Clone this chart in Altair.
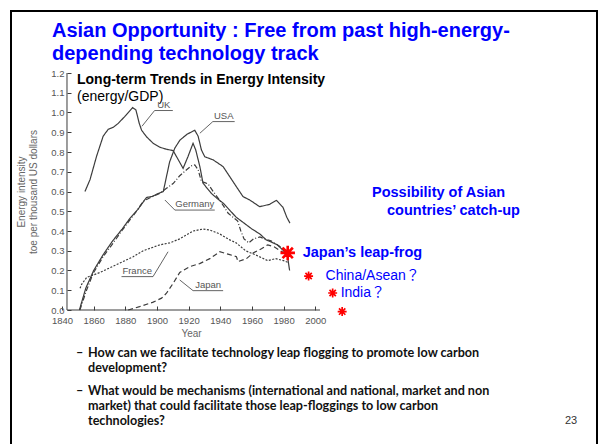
import altair as alt
import pandas as pd

# Energy intensity, toe per thousand US dollars (commercial energy / GDP)
uk_year = [1854.5, 1857.7, 1861.9, 1866.0, 1869.2, 1872.4, 1875.5, 1879.7, 1884.6, 1886.7,
           1888.8, 1890.3, 1893.4, 1897.6, 1901.8, 1906.0, 1910.2, 1912.4, 1916.5, 1919.5,
           1922.8, 1924.5, 1927.1, 1929.1, 1934.4, 1938.0, 1942.0, 1946.0, 1950.0, 1955.0,
           1960.0, 1965.0, 1969.0, 1972.0, 1976.0, 1980.0, 1982.5, 1983.8]
uk_value = [0.60, 0.66, 0.78, 0.88, 0.915, 0.925, 0.945, 0.98, 1.025, 1.013,
            0.945, 0.91, 0.877, 0.844, 0.824, 0.814, 0.807, 0.776, 0.717, 0.775,
            0.844, 0.81, 0.726, 0.642, 0.59, 0.565, 0.54, 0.505, 0.47, 0.44,
            0.41, 0.385, 0.355, 0.345, 0.33, 0.30, 0.27, 0.20]

usa_year = [1851.0, 1855.0, 1860.0, 1866.0, 1872.0, 1878.0, 1883.0, 1888.0, 1893.4, 1897.0,
            1900.8, 1904.0, 1908.0, 1911.3, 1914.5, 1919.0, 1923.9, 1926.0, 1928.1, 1930.2,
            1935.5, 1941.8, 1946.0, 1950.2, 1954.4, 1958.6, 1964.9, 1971.2, 1975.5, 1979.6,
            1982.0, 1984.0]
usa_value = [0.0, 0.11, 0.20, 0.28, 0.35, 0.41, 0.465, 0.51, 0.57, 0.575,
             0.59, 0.60, 0.75, 0.82, 0.86, 0.89, 0.91, 0.88, 0.81, 0.776,
             0.76, 0.726, 0.675, 0.624, 0.574, 0.557, 0.523, 0.535, 0.555, 0.52,
             0.47, 0.44]

germany_year = [1851.3, 1855.5, 1859.7, 1866.0, 1872.4, 1877.7, 1882.9, 1887.1, 1891.3, 1896.0,
                1901.8, 1906.0, 1910.2, 1914.4, 1918.7, 1921.8, 1923.9, 1926.0, 1928.1, 1930.2,
                1932.3, 1935.5, 1938.6, 1941.8, 1945.0, 1948.0, 1951.0, 1953.0, 1955.0, 1958.0,
                1961.0, 1965.0, 1968.0, 1972.0, 1976.0, 1980.0, 1983.0]
germany_value = [0.0, 0.10, 0.186, 0.27, 0.34, 0.40, 0.456, 0.50, 0.55, 0.57,
                 0.59, 0.616, 0.64, 0.68, 0.71, 0.73, 0.735, 0.71, 0.65, 0.645,
                 0.638, 0.60, 0.567, 0.53, 0.49, 0.47, 0.45, 0.40, 0.36, 0.34,
                 0.36, 0.37, 0.36, 0.35, 0.33, 0.31, 0.29]

france_year = [1851.4, 1852.4, 1855.6, 1864.0, 1874.5, 1885.0, 1891.3, 1901.8, 1908.1, 1914.4,
               1922.8, 1929.1, 1933.4, 1939.7, 1946.0, 1950.0, 1956.0, 1962.0, 1970.0, 1975.0,
               1980.0, 1983.0]
france_value = [0.11, 0.13, 0.165, 0.19, 0.23, 0.27, 0.30, 0.33, 0.34, 0.36,
                0.40, 0.41, 0.405, 0.385, 0.355, 0.34, 0.30, 0.28, 0.25, 0.26,
                0.25, 0.24]

japan_year = [1881.8, 1889.0, 1897.6, 1902.9, 1906.0, 1910.2, 1914.4, 1920.8, 1927.0, 1933.4,
              1939.7, 1946.0, 1950.2, 1951.2, 1956.5, 1961.0, 1966.0, 1970.0, 1974.0, 1978.0,
              1982.0]
japan_value = [0.0, 0.017, 0.04, 0.06, 0.085, 0.135, 0.19, 0.22, 0.235, 0.26,
               0.295, 0.28, 0.27, 0.245, 0.26, 0.29, 0.31, 0.33, 0.32, 0.30,
               0.28]

countries = ["UK", "USA", "Germany", "France", "Japan"]

# Name tags drawn beside the curves, with their callout lines
tag_name = ["UK", "USA", "Germany", "France", "Japan"]
tag_year = [1904.3, 1942.2, 1923.9, 1887.5, 1932.3]
tag_value = [1.01, 0.954, 0.506, 0.169, 0.098]
callout_name = ["UK", "UK", "UK", "USA", "USA", "USA", "Germany", "Germany", "Germany",
                "France", "France", "France", "Japan", "Japan", "Japan"]
callout_year = [1890.5, 1898.5, 1910.0, 1927.1, 1935.3, 1949.1, 1905.0, 1911.3, 1936.5,
                1877.6, 1897.5, 1907.0, 1914.4, 1922.8, 1941.8]
callout_value = [0.93, 1.01, 1.01, 0.895, 0.954, 0.954, 0.557, 0.506, 0.506,
                 0.169, 0.169, 0.295, 0.152, 0.098, 0.098]

# Asian catch-up markers
star_year = [1982.6, 1995.8, 2011.0, 2017.0]
star_value = [0.289, 0.172, 0.086, -0.008]
star_label = ["Japan’s leap-frog", "China/Asean？", "India？", ""]

year_ticks = [1840, 1860, 1880, 1900, 1920, 1940, 1960, 1980, 2000]
value_ticks = [0.0, 0.1, 0.2, 0.3, 0.4, 0.5, 0.6, 0.7, 0.8, 0.9, 1.0, 1.1, 1.2]

title_lines = ["Asian Opportunity : Free from past high-energy-",
               "depending technology track"]
chart_heading = "Long-term Trends in Energy Intensity"
chart_unit = "(energy/GDP)"
catchup_lines = ["Possibility of Asian", "countries’ catch-up"]
bullet_lines = [
    ("–", "How can we facilitate technology leap flogging to promote low carbon"),
    ("", "development?"),
    ("–", "What would be mechanisms (international and national, market and non"),
    ("", "market) that could facilitate those leap-floggings to low carbon"),
    ("", "technologies?"),
]
page_number = "23"

# ---------------------------------------------------------------- tables
series = pd.concat(
    [pd.DataFrame({"country": n, "year": y, "value": v}) for n, y, v in [
        ("UK", uk_year, uk_value), ("USA", usa_year, usa_value),
        ("Germany", germany_year, germany_value), ("France", france_year, france_value),
        ("Japan", japan_year, japan_value)]],
    ignore_index=True)
tags = pd.DataFrame({"country": tag_name, "year": tag_year, "value": tag_value})
callouts = pd.DataFrame({"country": callout_name, "year": callout_year, "value": callout_value,
                         "step": list(range(len(callout_name)))})
stars = pd.DataFrame({"label": star_label, "year": star_year, "value": star_value})
one = pd.DataFrame({"k": [0]})

INK = "#3c3c3c"
AXIS_GRAY = "#555555"
BLUE = "#0000ff"
SANS = "Liberation Sans"

x_axis = alt.Axis(values=year_ticks, format="d", offset=-4, tickSize=4, domain=False, grid=False,
                  tickColor=INK, labelColor=AXIS_GRAY, labelFont=SANS, labelFontSize=9.5,
                  labelPadding=5, labelOverlap=False, labelFlush=False,
                  title="Year", titleFont=SANS, titleFontSize=10,
                  titleFontWeight="normal", titleColor="#666666", titlePadding=4)
y_axis = alt.Axis(values=value_ticks, format=".1f", offset=-9, tickSize=4, domain=False, grid=False,
                  tickColor=INK, labelColor=AXIS_GRAY, labelFont=SANS, labelFontSize=9.5,
                  labelPadding=3, labelOverlap=False, labelFlush=False,
                  title=["Energy intensity", "toe per thousand US dollars"],
                  titleFont=SANS, titleFontSize=10, titleFontWeight="normal",
                  titleColor="#666666", titlePadding=12, titleLineHeight=12)
x_scale = alt.Scale(domain=[1840, 2003], nice=False, zero=False)
y_scale = alt.Scale(domain=[0, 1.2], nice=False)

X = alt.X("year:Q", scale=x_scale, axis=x_axis)
Y = alt.Y("value:Q", scale=y_scale, axis=y_axis)

# axis lines, with the ticks pointing into the plot
AXIS_START = 1843.15
y_line = alt.Chart(one).mark_rule(color=INK, strokeWidth=1).encode(
    x=alt.X(datum=AXIS_START, type="quantitative", scale=x_scale, axis=x_axis),
    y=alt.Y(datum=0, type="quantitative", scale=y_scale, axis=y_axis),
    y2=alt.Y2(datum=1.2))
x_line = alt.Chart(one).mark_rule(color=INK, strokeWidth=1).encode(
    x=alt.X(datum=AXIS_START, type="quantitative", scale=x_scale, axis=x_axis),
    x2=alt.X2(datum=2003),
    y=alt.Y(datum=0, type="quantitative", scale=y_scale, axis=y_axis))

curves = alt.Chart(series).mark_line(color=INK, strokeWidth=1.2).encode(
    x=X, y=Y,
    strokeDash=alt.StrokeDash("country:N", legend=None, scale=alt.Scale(
        domain=countries, range=[[1, 0], [1, 0], [5, 2, 1, 2], [2, 1.5], [5, 3]])),
    detail="country:N")

callout_lines = alt.Chart(callouts).mark_line(color=INK, strokeWidth=0.8).encode(
    x=X, y=Y, detail="country:N", order="step:Q")
tag_text = alt.Chart(tags).mark_text(font=SANS, fontSize=9.5, color=AXIS_GRAY,
                                     baseline="bottom", dy=-1).encode(x=X, y=Y, text="country:N")

ASTERISK = "M-1,0L1,0M0,-1L0,1M-0.71,-0.71L0.71,0.71M-0.71,0.71L0.71,-0.71"
big_star = alt.Chart(stars).transform_filter(alt.datum.label == star_label[0]).mark_point(
    shape=ASTERISK, filled=False, color="#ff0000", strokeWidth=2.6, size=210, opacity=1).encode(x=X, y=Y)
small_stars = alt.Chart(stars).transform_filter(alt.datum.label != star_label[0]).mark_point(
    shape=ASTERISK, filled=False, color="#ff0000", strokeWidth=1.7, size=80, opacity=1).encode(x=X, y=Y)

star_texts = []
for lab, dx, weight in [(star_label[0], 15, "bold"), (star_label[1], 17, "normal"),
                        (star_label[2], 8, "normal")]:
    star_texts.append(
        alt.Chart(stars).transform_filter(alt.datum.label == lab).mark_text(
            align="left", baseline="middle", dx=dx, font=SANS + ", Noto Sans CJK JP",
            fontSize=14.5 if weight == "bold" else 14, fontWeight=weight, color=BLUE
        ).encode(x=X, y=Y, text="label:N"))


def note(txt, x, y, **style):
    """Free text placed in pixels relative to the plot's top-left corner."""
    return alt.Chart(one).mark_text(text=txt, align=style.pop("align", "left"),
                                    baseline="middle", **style).encode(
        x=alt.value(x), y=alt.value(y))


notes = [
    note(title_lines[0], -10, -42, font=SANS, fontSize=20, fontWeight="bold", color=BLUE),
    note(title_lines[1], -10, -19, font=SANS, fontSize=20, fontWeight="bold", color=BLUE),
    note(chart_heading, 15, 7, font=SANS, fontSize=14, fontWeight="bold", color="#000000"),
    note(chart_unit, 15, 24, font=SANS, fontSize=14, color="#000000"),
    note(catchup_lines[0], 310, 120, font=SANS, fontSize=14.5, fontWeight="bold", color=BLUE),
    note(catchup_lines[1], 325, 138, font=SANS, fontSize=14.5, fontWeight="bold", color=BLUE),
    note(page_number, 509, 348, font=SANS, fontSize=11, color="#333333", align="center"),
]
for i, (dash, line) in enumerate(bullet_lines):
    y = [280, 295, 318, 333, 348][i]
    if dash:
        notes.append(note(dash, 14, y, font="Lato", fontSize=12.6, fontWeight="bold", color="#111111"))
    notes.append(note(line, 26, y, font="Lato", fontSize=12.6, fontWeight="bold", color="#111111"))

frame = alt.Chart(one).mark_rect(fill=None, stroke="#000000", strokeWidth=2).encode(
    x=alt.value(-51), x2=alt.value(535), y=alt.value(-62), y2=alt.value(400))

chart = alt.layer(
    curves, frame, y_line, x_line, callout_lines, tag_text, big_star, small_stars,
    *star_texts, *notes
).properties(
    width=258, height=237,
    padding={"left": 62, "top": 73, "right": 282, "bottom": 134},
    autosize=alt.AutoSizeParams(type="none"),
    background="#ffffff",
).configure_view(stroke=None)

chart.save("out.html", embed_options={"renderer": "svg", "actions": False})
